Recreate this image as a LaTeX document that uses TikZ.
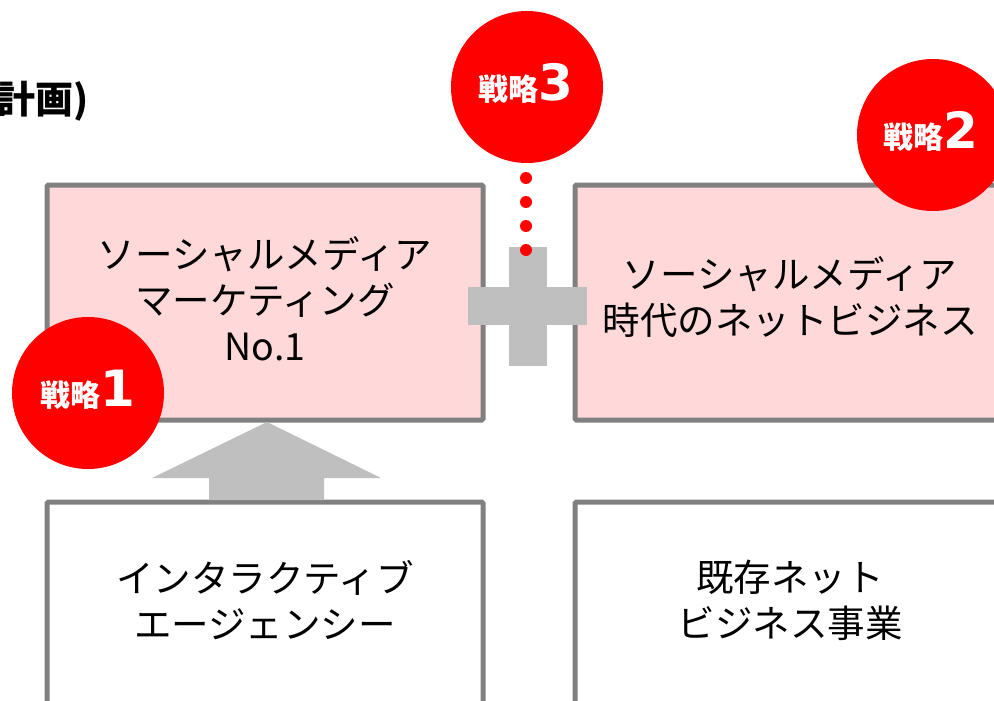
\documentclass[tikz,border=0pt]{standalone}
\usepackage{fontspec}
\setmainfont{Noto Sans CJK JP}
\newfontfamily\digitfont{DejaVu Sans}
\definecolor{boxpink}{RGB}{255,217,217}
\definecolor{boxgray}{RGB}{128,128,128}
\definecolor{lightgray}{RGB}{191,191,191}
\definecolor{strred}{RGB}{255,0,0}
\tikzset{
  panel/.style={draw=boxgray, line width=5pt, rounded corners=1.5pt, minimum width=436pt, minimum height=235pt, inner sep=0pt},
  panelpink/.style={panel, fill=boxpink},
  paneltext/.style={align=center, font=\fontsize{37.5}{46}\selectfont, text=black, inner sep=0pt},
  badge/.style={circle, fill=strred, minimum size=152pt, inner sep=0pt},
  badgetext/.style={text=white, inner sep=0pt, anchor=base},
  reddot/.style={fill=strred}
}
\newcommand{\badgelabel}[1]{{\bfseries\fontsize{30}{30}\selectfont 戦略}{\digitfont\bfseries\fontsize{50}{50}\selectfont #1}}
\begin{document}
\begin{tikzpicture}[x=1pt, y=-1pt]
\useasboundingbox (0,0) rectangle (994,701);
\clip (0,0) rectangle (994,701);
% title fragment
\node[anchor=east, inner sep=0pt, font=\bfseries\fontsize{38}{38}\selectfont] (title) at (89,101) {計画)};
% panels
\node[panelpink] (smm) at (265,302.5) {};
\node[panelpink] (net) at (793,302.5) {};
\node[panel, fill=white] (agency) at (265,619.5) {};
\node[panel, fill=white] (exist) at (793,619.5) {};
% panel texts
\node[paneltext] (smmtext) at (265,299) {ソーシャルメディア\\マーケティング\\No.1};
\node[paneltext] (nettext) at (790,297) {ソーシャルメディア\\時代のネットビジネス};
\node[paneltext] (agencytext) at (265,600) {インタラクティブ\\エージェンシー};
\node[paneltext] (existtext) at (790,600) {既存ネット\\ビジネス事業};
% block arrow from agency up to smm
\fill[lightgray] (209,500) -- (209,478) -- (152,478) -- (267,422) -- (381,478) -- (324,478) -- (324,500) -- cycle;
% plus sign
\fill[lightgray] (509,247) rectangle (547,366);
\fill[lightgray] (468,287) rectangle (587,325);
\coordinate (plus) at (528,306);
% badges
\node[badge] (s3) at (527,87) {};
\node[badge] (s2) at (933,135) {};
\node[badge] (s1) at (88,393) {};
\node[badgetext] (s3t) at (526,100) {\badgelabel{3}};
\node[badgetext] (s2t) at (931,148) {\badgelabel{2}};
\node[badgetext] (s1t) at (88,406) {\badgelabel{1}};
% dotted link from badge 3 to plus
\foreach \yy in {178,202,226,250} {
  \fill[reddot] (526,\yy) circle (6);
}
\end{tikzpicture}
\end{document}
